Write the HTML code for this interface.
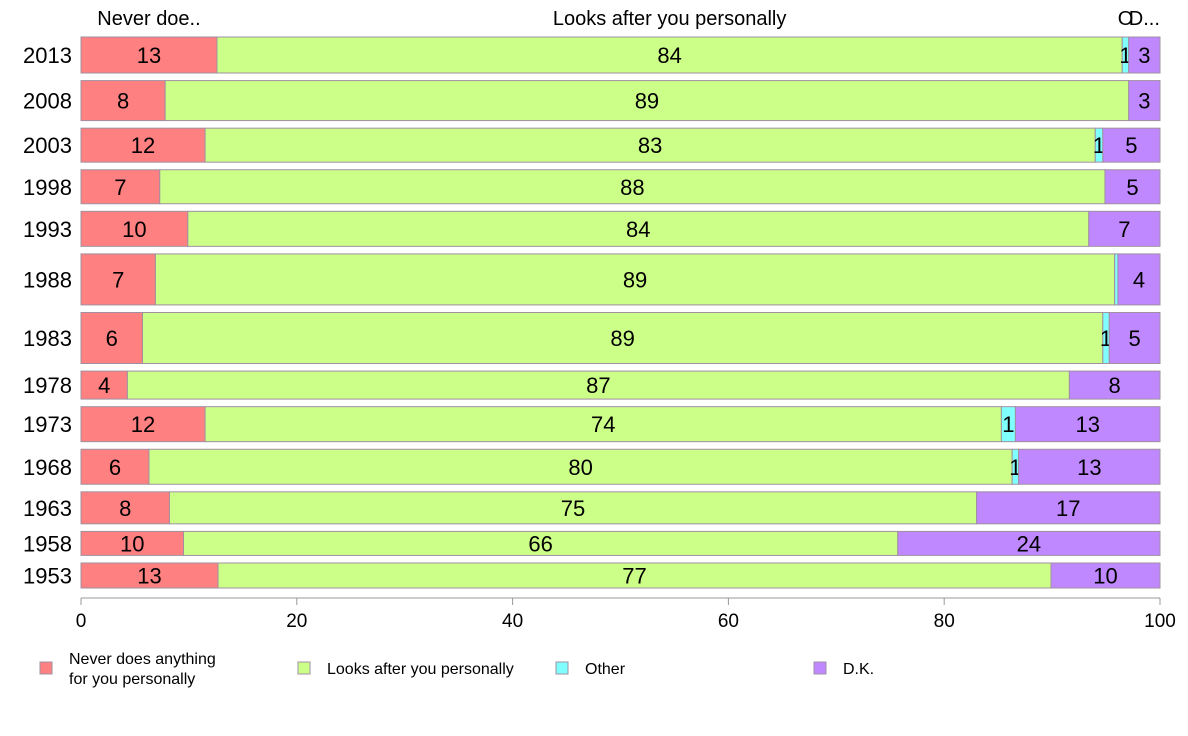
<!DOCTYPE html>
<html><head><meta charset="utf-8"><style>
body{margin:0;background:#fff;font-family:"Liberation Sans",sans-serif}
svg{display:block}
</style></head><body>
<svg id="chart" width="1188" height="736" xmlns="http://www.w3.org/2000/svg" font-family="Liberation Sans, sans-serif"></svg>
<script>
const years=["2013","2008","2003","1998","1993","1988","1983","1978","1973","1968","1963","1958","1953"];
const neverVals=[12.6,7.8,11.5,7.3,9.9,6.9,5.7,4.3,11.5,6.3,8.2,9.5,12.7];
const looksVals=[83.9,89.3,82.5,87.6,83.5,88.9,89.0,87.3,73.8,80.0,74.8,66.2,77.2];
const otherVals=[0.6,0,0.7,0,0,0.3,0.6,0,1.3,0.6,0,0,0];
const dkVals=[2.9,2.9,5.3,5.1,6.6,3.9,4.7,8.4,13.4,13.1,17.0,24.3,10.1];
const sampleWeights=[36,40,34,34,35,51,51,28,35,35,32,24,25];
const xTicks=[0,20,40,60,80,100];
const seriesNames=["Never does anything\nfor you personally","Looks after you personally","Other","D.K."];
const topLabels=["Never doe..","Looks after you personally","O","D..."];
const colors=["#ff8080","#ccff88","#80ffff","#bf88ff"];
const series=[neverVals,looksVals,otherVals,dkVals];
const svg=document.getElementById('chart');
const NS="http://www.w3.org/2000/svg";
const X0=81,X1=1160,Y0=37,Y1=588;
const x=v=>X0+(X1-X0)*v/100;
function mk(t,a){const e=document.createElementNS(NS,t);for(const k in a)e.setAttribute(k,a[k]);svg.appendChild(e);return e;}
const totW=sampleWeights.reduce((a,b)=>a+b,0);
const gap=(Y1-Y0-totW)/(years.length-1);
let y=Y0;
years.forEach((yr,i)=>{
  const h=sampleWeights[i];
  const yl=mk('text',{x:72,y:y+h/2+8,'text-anchor':'end','font-size':22,fill:'#000'});
  yl.textContent=yr;
  
  
  let c=0;
  series.forEach((s,j)=>{
    const v=s[i];
    if(v<=0)return;
    const r=mk('rect',{x:x(c),y:y,width:x(c+v)-x(c),height:h,fill:colors[j],stroke:'#a090a0','stroke-width':1});
    
    
    const lbl=Math.round(v);
    if(lbl>0){
      const t=mk('text',{x:(x(c)+x(c+v))/2,y:y+h/2+8,'text-anchor':'middle','font-size':22,fill:'#000'});
      t.textContent=lbl;
      
      
    }
    if(i===0){
      const t=mk('text',{x:(x(c)+x(c+v))/2,y:25,'text-anchor':'middle','font-size':20,fill:'#000'});
      t.textContent=topLabels[j];
      
      
    }
    c+=v;
  });
  y+=h+gap;
});
const ax=mk('line',{x1:X0,x2:X1,y1:598,y2:598,stroke:'#999','stroke-width':1});


xTicks.forEach(v=>{
  mk('line',{x1:x(v),x2:x(v),y1:598,y2:605,stroke:'#999'});
  const t=mk('text',{x:x(v),y:627,'text-anchor':'middle','font-size':19,fill:'#000'});
  t.textContent=v;
  
  
});
seriesNames.forEach((n,j)=>{
  const lx=40+258*j;
  const b=mk('rect',{x:lx,y:662,width:12,height:12,fill:colors[j],stroke:'#a090a0'});
  
  
  const t=mk('text',{x:lx+29,y:j===0?664:674,'font-size':16,fill:'#000'});
  
  
  n.split('\n').forEach((ln,k)=>{const ts=document.createElementNS(NS,'tspan');ts.setAttribute('x',lx+29);ts.setAttribute('dy',k?20:0);ts.textContent=ln;t.appendChild(ts);});
});
</script>
</body></html>
